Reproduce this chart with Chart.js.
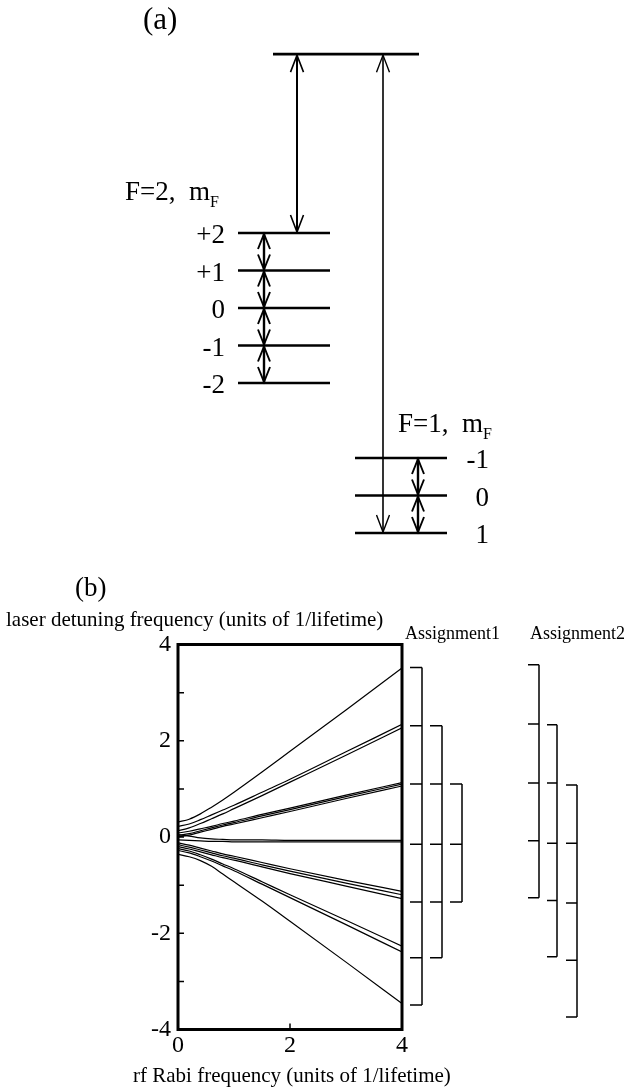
<!DOCTYPE html>
<html>
<head>
<meta charset="utf-8">
<script src="https://cdn.jsdelivr.net/npm/chart.js@4"></script>
<style>
  html, body { margin: 0; padding: 0; background: #fff; }
  #page { position: relative; width: 626px; height: 1090px; overflow: hidden; background: #fff; }
  .txt { position: absolute; font-family: "Liberation Serif", "Times New Roman", serif; color: #000; line-height: 1; white-space: nowrap; }
  .sub { position: relative; top: 7px; font-size: 16px; }
  #wrapA { position: absolute; left: 0; top: 0; width: 626px; height: 560px; }
  #wrapB { position: absolute; left: 0; top: 580px; width: 626px; height: 510px; }
</style>
</head>
<body>
<div id="page">
  <div id="wrapA"><canvas id="levels" width="626" height="560"></canvas></div>
  <div id="wrapB"><canvas id="spectrum" width="626" height="510"></canvas></div>
</div>
<script>
// ---------- Panel (a): hyperfine level scheme (energies in level spacings) ----------
const excitedEnergy = 6.77;
const f2Labels = ['+2', '+1', '0', '-1', '-2'];
const f2Energies = [2, 1, 0, -1, -2];
const f1Labels = ['-1', '0', '1'];
const f1Energies = [-4, -5, -6];

// ---------- Panel (b): dressed-state detunings vs rf Rabi frequency ----------
const rabiFreq = [0, 0.2, 0.4, 0.6, 0.8, 1, 1.5, 2, 3, 4];
const upper3  = [0.31, 0.37, 0.48, 0.62, 0.77, 0.93, 1.35, 1.78, 2.64, 3.51];
const upper2a = [0.22, 0.27, 0.36, 0.46, 0.56, 0.66, 0.93, 1.20, 1.77, 2.34];
const upper2b = [0.13, 0.19, 0.28, 0.38, 0.48, 0.59, 0.86, 1.14, 1.70, 2.27];
const upper1a = [0.08, 0.12, 0.17, 0.22, 0.28, 0.33, 0.47, 0.60, 0.87, 1.13];
const upper1b = [0.03, 0.07, 0.13, 0.19, 0.25, 0.30, 0.44, 0.57, 0.84, 1.10];
const upper1c = [0.00, 0.04, 0.10, 0.16, 0.22, 0.27, 0.40, 0.53, 0.80, 1.06];
const zeroA   = [0.05, 0.02, -0.02, -0.04, -0.05, -0.06, -0.06, -0.07, -0.07, -0.07];
const zeroB   = [-0.06, -0.07, -0.08, -0.09, -0.09, -0.10, -0.10, -0.10, -0.10, -0.10];
const lower1a = [-0.12, -0.17, -0.23, -0.29, -0.35, -0.40, -0.53, -0.66, -0.90, -1.13];
const lower1b = [-0.16, -0.21, -0.27, -0.33, -0.39, -0.44, -0.58, -0.71, -0.96, -1.20];
const lower1c = [-0.20, -0.25, -0.31, -0.37, -0.43, -0.48, -0.62, -0.76, -1.02, -1.28];
const lower2a = [-0.24, -0.29, -0.37, -0.46, -0.56, -0.66, -0.93, -1.20, -1.73, -2.27];
const lower2b = [-0.28, -0.33, -0.41, -0.50, -0.60, -0.70, -0.98, -1.26, -1.82, -2.39];
const lower3  = [-0.36, -0.41, -0.49, -0.61, -0.77, -0.93, -1.33, -1.75, -2.60, -3.46];

const yTickValues = [-4, -2, 0, 2, 4];
const xTickValues = [0, 2, 4];

// level assignments shown as brackets beside the plot
const assign1a = [3.52, 2.31, 1.10, -0.15, -1.35, -2.51, -3.49];
const assign1b = [2.31, 1.10, -0.15, -1.35, -2.51];
const assign1c = [1.10, -0.15, -1.35];
const assign2a = [3.58, 2.35, 1.12, -0.08, -1.26];
const assign2b = [2.33, 1.12, -0.13, -1.32, -2.49];
const assign2c = [1.08, -0.13, -1.37, -2.56, -3.74];

// ---------- layout ----------
const SERIF = '"Liberation Serif", "Times New Roman", serif';
const page = document.getElementById('page');

function placeText(html, x, baseline, size, align, extra) {
  const d = document.createElement('div');
  d.className = 'txt';
  d.style.fontSize = size + 'px';
  d.style.top = (baseline - 0.8375 * size) + 'px';
  if (align === 'right') d.style.right = (626 - x) + 'px';
  else if (align === 'center') { d.style.left = (x - 100) + 'px'; d.style.width = '200px'; d.style.textAlign = 'center'; }
  else d.style.left = x + 'px';
  if (extra) Object.assign(d.style, extra);
  d.innerHTML = html;
  page.appendChild(d);
  return d;
}

// horizontal extents (canvas px) of the level groups and arrow columns
const spanExcited = [273, 419];
const spanF2 = [238, 330];
const spanF1 = [355, 447];
const arrowToF2X = 297;
const arrowToF1X = 383;
const f2LadderX = 264;
const f1LadderX = 418;

function levelSet(energies, span, width) {
  return energies.map(e => ({
    data: [{ x: span[0], y: e }, { x: span[1], y: e }],
    borderColor: '#000', borderWidth: width, pointRadius: 0, fill: false
  }));
}

function drawArrow(ctx, x, yTop, yBot, lw, w, len) {
  ctx.save();
  ctx.strokeStyle = '#000';
  ctx.lineWidth = lw;
  ctx.lineCap = 'butt';
  ctx.beginPath();
  ctx.moveTo(x, yTop); ctx.lineTo(x, yBot);
  ctx.stroke();
  ctx.lineWidth = Math.max(1.4, lw * 0.8);
  ctx.lineJoin = 'miter';
  ctx.beginPath();
  ctx.moveTo(x - w, yTop + len); ctx.lineTo(x, yTop); ctx.lineTo(x + w, yTop + len);
  ctx.moveTo(x - w, yBot - len); ctx.lineTo(x, yBot); ctx.lineTo(x + w, yBot - len);
  ctx.stroke();
  ctx.restore();
}

const arrowsPlugin = {
  id: 'transitionArrows',
  afterDatasetsDraw(chart) {
    const ctx = chart.ctx;
    const xs = chart.scales.x, ys = chart.scales.y;
    const py = v => ys.getPixelForValue(v);
    drawArrow(ctx, xs.getPixelForValue(arrowToF2X), py(excitedEnergy) + 1, py(f2Energies[0]) - 1, 2, 6.5, 17);
    drawArrow(ctx, xs.getPixelForValue(arrowToF1X), py(excitedEnergy) + 1, py(f1Energies[2]) - 1, 1.6, 6.5, 17);
    for (let i = 0; i < f2Energies.length - 1; i++) {
      drawArrow(ctx, xs.getPixelForValue(f2LadderX), py(f2Energies[i]) + 1, py(f2Energies[i + 1]) - 1, 2.4, 6, 15);
    }
    for (let i = 0; i < f1Energies.length - 1; i++) {
      drawArrow(ctx, xs.getPixelForValue(f1LadderX), py(f1Energies[i]) + 1, py(f1Energies[i + 1]) - 1, 2.4, 6, 15);
    }
  }
};

const levelChart = new Chart(document.getElementById('levels'), {
  type: 'line',
  data: {
    datasets: [
      ...levelSet([excitedEnergy], spanExcited, 2.6),
      ...levelSet(f2Energies, spanF2, 2.6),
      ...levelSet(f1Energies, spanF1, 2.6)
    ]
  },
  options: {
    responsive: false,
    animation: false,
    layout: { padding: { top: 8, bottom: 12, left: 0, right: 0 } },
    plugins: { legend: { display: false }, tooltip: { enabled: false } },
    scales: {
      x: { type: 'linear', min: 0, max: 626, display: false },
      y: { type: 'linear', min: -6.4, max: 8, display: false }
    }
  },
  plugins: [arrowsPlugin]
});

// level labels, placed from the energy scale
(function () {
  const ys = levelChart.scales.y;
  f2Labels.forEach((t, i) => placeText(t, 225, ys.getPixelForValue(f2Energies[i]) + 11, 27, 'right'));
  f1Labels.forEach((t, i) => placeText(t, 489, ys.getPixelForValue(f1Energies[i]) + 11, 27, 'right'));
  placeText('F=2,&nbsp; m<span class="sub">F</span>', 125, 201, 27, 'left');
  placeText('F=1,&nbsp; m<span class="sub">F</span>', 398, 433, 27, 'left');
})();

placeText('(a)', 143, 29, 31, 'left');
placeText('(b)', 75, 597, 27, 'left');
placeText('laser detuning frequency (units of 1/lifetime)', 6, 627, 21, 'left');
placeText('Assignment1', 405, 639, 18, 'left');
placeText('Assignment2', 530, 639, 18, 'left');
placeText('rf Rabi frequency (units of 1/lifetime)', 133, 1083, 21, 'left');

// ---------- Panel (b) chart ----------
const curves = [upper3, upper2a, upper2b, upper1a, upper1b, upper1c, zeroA, zeroB,
                lower1a, lower1b, lower1c, lower2a, lower2b, lower3];

const frameAndTicks = {
  id: 'frameAndTicks',
  afterDatasetsDraw(chart) {
    const { ctx, chartArea: a } = chart;
    const xs = chart.scales.x, ys = chart.scales.y;
    ctx.save();
    ctx.strokeStyle = '#000';
    ctx.lineWidth = 1.5;
    ctx.beginPath();
    for (let v = ys.min + 1; v < ys.max; v++) {
      const p = ys.getPixelForValue(v);
      ctx.moveTo(a.left, p); ctx.lineTo(a.left + 6, p);
    }
    xTickValues.forEach(v => {
      const p = xs.getPixelForValue(v);
      if (v > xs.min && v < xs.max) { ctx.moveTo(p, a.bottom); ctx.lineTo(p, a.bottom - 6); }
    });
    ctx.stroke();
    ctx.lineWidth = 3;
    ctx.strokeRect(a.left, a.top, a.right - a.left, a.bottom - a.top);
    ctx.restore();
  }
};

// bracket columns: x of tick start and of the vertical bar (canvas px)
const bracketCols = [
  { values: assign1a, x0: 410, x1: 422 },
  { values: assign1b, x0: 430, x1: 442 },
  { values: assign1c, x0: 450, x1: 462 },
  { values: assign2a, x0: 528, x1: 539 },
  { values: assign2b, x0: 547, x1: 557 },
  { values: assign2c, x0: 566, x1: 577 }
];

const bracketsPlugin = {
  id: 'assignmentBrackets',
  afterDraw(chart) {
    const ctx = chart.ctx, ys = chart.scales.y;
    ctx.save();
    ctx.strokeStyle = '#000';
    ctx.lineWidth = 1.5;
    bracketCols.forEach(b => {
      const px = b.values.map(v => ys.getPixelForValue(v));
      ctx.beginPath();
      ctx.moveTo(b.x1, Math.min(...px)); ctx.lineTo(b.x1, Math.max(...px));
      px.forEach(p => { ctx.moveTo(b.x0, p); ctx.lineTo(b.x1, p); });
      ctx.stroke();
    });
    ctx.restore();
  }
};

new Chart(document.getElementById('spectrum'), {
  type: 'line',
  data: {
    datasets: curves.map(c => ({
      data: c.map((v, i) => ({ x: rabiFreq[i], y: v })),
      borderColor: '#000', borderWidth: 1.2, pointRadius: 0, fill: false,
      cubicInterpolationMode: 'monotone'
    }))
  },
  options: {
    responsive: false,
    animation: false,
    layout: { padding: { top: 64.5, left: 0, right: 224, bottom: 0 } },
    plugins: { legend: { display: false }, tooltip: { enabled: false } },
    scales: {
      x: {
        type: 'linear', min: 0, max: 4,
        grid: { display: false, drawTicks: false }, border: { display: false },
        afterBuildTicks(s) { s.ticks = xTickValues.map(v => ({ value: v })); },
        ticks: { color: '#000', font: { family: SERIF, size: 24 }, padding: 2, autoSkip: false, maxRotation: 0 },
        afterFit(s) { s.height = 60.5; }
      },
      y: {
        type: 'linear', min: -4, max: 4,
        grid: { display: false, drawTicks: false }, border: { display: false },
        afterBuildTicks(s) { s.ticks = yTickValues.map(v => ({ value: v })); },
        ticks: { color: '#000', font: { family: SERIF, size: 24 }, padding: 7, autoSkip: false },
        afterFit(s) { s.width = 178; }
      }
    }
  },
  plugins: [frameAndTicks, bracketsPlugin]
});
</script>
</body>
</html>
